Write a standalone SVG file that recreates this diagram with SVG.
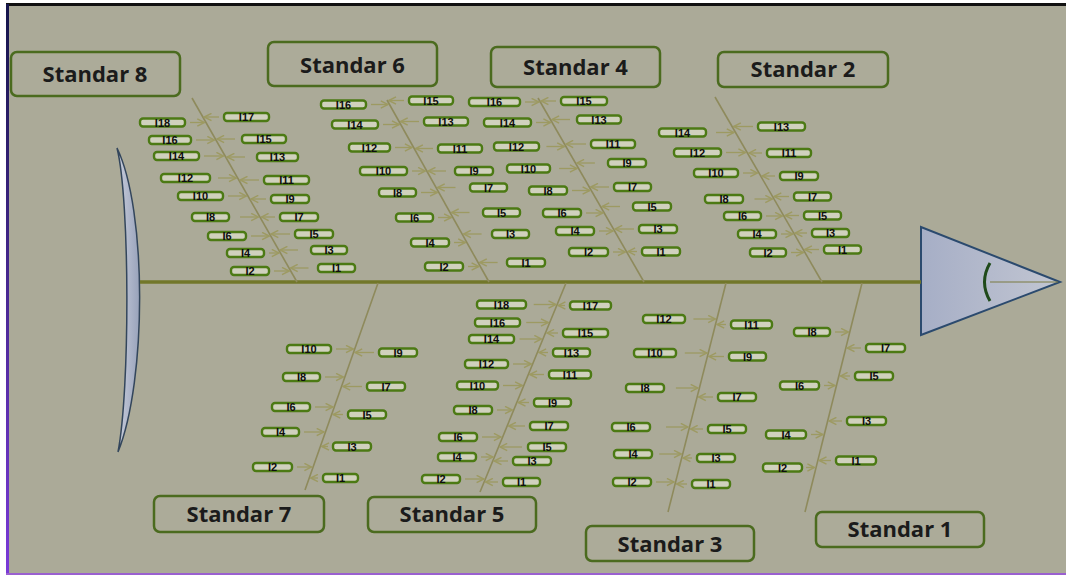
<svg xmlns="http://www.w3.org/2000/svg" width="1066" height="576" viewBox="0 0 1066 576">
<style>
.std{fill:#acab99;stroke:#4b6b1f;stroke-width:2.5}
.stx{font-family:"Open Sans","Liberation Sans",sans-serif;font-weight:700;font-size:22px;fill:#1b1b1b;text-anchor:middle}
.p{fill:#d0d1bd;stroke:#4c7a14;stroke-width:2.4}
.t{font-family:"Liberation Sans",Arial,sans-serif;font-weight:700;font-size:11px;fill:#0e0e0e;text-anchor:middle}
.bone{stroke:#8e8a5c;stroke-width:1.6;fill:none}
.arr{stroke:#9d9a62;stroke-width:1.3;fill:none;marker-end:url(#ah)}
</style>
<defs>
<marker id="ah" viewBox="0 0 10 10" refX="9" refY="5" markerWidth="9" markerHeight="9" markerUnits="userSpaceOnUse" orient="auto"><path d="M1,1 L9,5 L1,9" fill="none" stroke="#9d9a62" stroke-width="1.6"/></marker>
<linearGradient id="lb" x1="0" y1="0" x2="0" y2="1"><stop offset="0" stop-color="#15154a"/><stop offset="1" stop-color="#7a3ad8"/></linearGradient>
<linearGradient id="tailg" x1="0" y1="0" x2="1" y2="0"><stop offset="0" stop-color="#c9cedc"/><stop offset="1" stop-color="#98a2ba"/></linearGradient>
<linearGradient id="headg" x1="0" y1="0" x2="1" y2="0"><stop offset="0" stop-color="#a6aec6"/><stop offset="1" stop-color="#c2c6d2"/></linearGradient>
</defs>
<rect width="1066" height="576" fill="#ffffff"/>
<rect x="7" y="4" width="1059" height="570" fill="#abaa98"/>
<rect x="6" y="3" width="1060" height="3" fill="#111"/>
<rect x="6" y="4" width="3" height="571" fill="url(#lb)"/>
<rect x="6" y="573" width="1060" height="2" fill="#9a60d0"/>

<g id="tail"><path d="M117,148 C147,210 147,380 118,452 C130,390 130,200 117,148 Z" fill="url(#tailg)" stroke="#33465c" stroke-width="1.5"/></g>
<g id="head">
<polygon points="921,227 921,335 1060,282" fill="url(#headg)" stroke="#2b4a6e" stroke-width="2"/>
<line x1="990" y1="282" x2="1058" y2="282" stroke="#7a7a40" stroke-width="1"/>
<path d="M990,263 Q979,282 990,301" fill="none" stroke="#1f4a1a" stroke-width="3"/>
</g>

<g id="connectors">
<line x1="140" y1="282" x2="921" y2="282" stroke="#72772a" stroke-width="3.5"/>
<line class="bone" x1="192" y1="98" x2="297" y2="282"/>
<line class="bone" x1="387" y1="100" x2="489" y2="282"/>
<line class="bone" x1="538" y1="98" x2="644" y2="282"/>
<line class="bone" x1="715" y1="97" x2="822" y2="282"/>
<line class="bone" x1="378" y1="283" x2="305" y2="490"/>
<line class="bone" x1="566" y1="283" x2="480" y2="492"/>
<line class="bone" x1="726" y1="283" x2="668" y2="512"/>
<line class="bone" x1="862" y1="283" x2="805" y2="512"/>
<!-- S8 arrows -->
<path class="arr" d="M190,122.5H204.5"/><path class="arr" d="M219,117H204.3"/>
<path class="arr" d="M196,140H214.5"/><path class="arr" d="M235,139H216.9"/>
<path class="arr" d="M204,156H223.6"/><path class="arr" d="M245,157H227.2"/>
<path class="arr" d="M218,178H236.2"/><path class="arr" d="M259,180H240.3"/>
<path class="arr" d="M228,196H246.4"/><path class="arr" d="M266,199H251.1"/>
<path class="arr" d="M240,217H258.4"/><path class="arr" d="M275,217H261.4"/>
<path class="arr" d="M251,236H269.3"/><path class="arr" d="M290,234H271.1"/>
<path class="arr" d="M269,253H279"/><path class="arr" d="M298,250H280.2"/>
<path class="arr" d="M274,271H289.2"/><path class="arr" d="M308.5,268H290.5"/>
<!-- S6 arrows -->
<path class="arr" d="M371,104.5H388"/><path class="arr" d="M404,100.5H388.8"/>
<path class="arr" d="M383,124.5H399.2"/><path class="arr" d="M419,121.5H400.5"/>
<path class="arr" d="M395,147.5H412.1"/><path class="arr" d="M433,148.5H415.7"/>
<path class="arr" d="M412,171H425.3"/><path class="arr" d="M446,171H428.3"/>
<path class="arr" d="M421,192.5H437.3"/><path class="arr" d="M455.5,187.5H437.5"/>
<path class="arr" d="M438,217.5H451.3"/><path class="arr" d="M469.5,212.5H451.5"/>
<path class="arr" d="M454,242.5H465.4"/><path class="arr" d="M481.6,234H463.6"/>
<path class="arr" d="M468,266.5H478.8"/><path class="arr" d="M497.6,262.5H479.6"/>
<!-- S4 arrows -->
<path class="arr" d="M525,102H538.8"/><path class="arr" d="M556,101H541.2"/>
<path class="arr" d="M536,122.5H550.6"/><path class="arr" d="M570,119.5H551.9"/>
<path class="arr" d="M546.4,146.5H564.4"/><path class="arr" d="M586,144H566"/>
<path class="arr" d="M559.1,168.5H577.1"/><path class="arr" d="M594.9,163H576.9"/>
<path class="arr" d="M572,190.5H589.8"/><path class="arr" d="M609,187H590.8"/>
<path class="arr" d="M586,213H602.8"/><path class="arr" d="M620,206.5H602"/>
<path class="arr" d="M599,231H613.1"/><path class="arr" d="M634,229H615"/>
<path class="arr" d="M613,252H625.2"/><path class="arr" d="M637,251.5H627.9"/>
<!-- S2 arrows -->
<path class="arr" d="M716,132.5H734"/><path class="arr" d="M753,126.5H733.6"/>
<path class="arr" d="M726,152.5H745.6"/><path class="arr" d="M762,153H748.9"/>
<path class="arr" d="M743,173H757.5"/><path class="arr" d="M775,176H762.2"/>
<path class="arr" d="M754.5,199H772.5"/><path class="arr" d="M789,196.5H774.1"/>
<path class="arr" d="M766,216H782.3"/><path class="arr" d="M799,215.5H785"/>
<path class="arr" d="M781,234H792.7"/><path class="arr" d="M807,233H795.2"/>
<path class="arr" d="M791,252.5H803.4"/><path class="arr" d="M819,249.5H804.7"/>
<!-- S7 arrows -->
<path class="arr" d="M336,349H353.2"/><path class="arr" d="M374,352.5H355"/>
<path class="arr" d="M325,377H343.3"/><path class="arr" d="M362,386.5H343"/>
<path class="arr" d="M315,407H332.8"/><path class="arr" d="M343,414.5H333.1"/>
<path class="arr" d="M304,432H323.9"/><path class="arr" d="M328,446.5H321.8"/>
<path class="arr" d="M297,467H311.6"/><path class="arr" d="M318,478H310.7"/>
<!-- S5 arrows -->
<path class="arr" d="M533.7,304.5H555.7"/><path class="arr" d="M565,305.5H558.2"/>
<path class="arr" d="M526.2,322.5H548.2"/><path class="arr" d="M558,333H546.9"/>
<path class="arr" d="M519.5,339H541.5"/><path class="arr" d="M548,352.5H538.9"/>
<path class="arr" d="M513,364H531.2"/><path class="arr" d="M544,374.5H529.8"/>
<path class="arr" d="M503,385.5H522.3"/><path class="arr" d="M529,402.5H518.3"/>
<path class="arr" d="M497,410H512.2"/><path class="arr" d="M525,426H508.7"/>
<path class="arr" d="M482,437H501.1"/><path class="arr" d="M522,447H500"/>
<path class="arr" d="M481,457H492.9"/><path class="arr" d="M508,461H494.3"/>
<path class="arr" d="M465,479H483.8"/><path class="arr" d="M498,482H485.6"/>
<!-- S3 arrows -->
<path class="arr" d="M693.4,319H715.4"/><path class="arr" d="M726,324.5H717"/>
<path class="arr" d="M684.8,353H706.8"/><path class="arr" d="M724,356.5H708.9"/>
<path class="arr" d="M675.9,388H697.9"/><path class="arr" d="M713,397H698.6"/>
<path class="arr" d="M666,427H688"/><path class="arr" d="M703,429H690.5"/>
<path class="arr" d="M659.2,454H681.2"/><path class="arr" d="M692,458H683.2"/>
<path class="arr" d="M656,482H674.1"/><path class="arr" d="M687,484H676.6"/>
<!-- S1 arrows -->
<path class="arr" d="M835,332H848.3"/><path class="arr" d="M861,348H847.3"/>
<path class="arr" d="M850,376H840.4"/><path class="arr" d="M824,385.5H835"/>
<path class="arr" d="M842,421H829.2"/><path class="arr" d="M811,434.5H822.8"/>
<path class="arr" d="M831,460.5H819.3"/><path class="arr" d="M806,467.5H814.6"/>
</g>

<g id="std8"><rect class="std" x="11" y="52" width="169" height="44" rx="6"/><text class="stx" x="95" y="82">Standar 8</text></g>
<g id="std6"><rect class="std" x="268" y="42" width="169" height="44" rx="6"/><text class="stx" x="352.5" y="73">Standar 6</text></g>
<g id="std4"><rect class="std" x="491" y="47" width="169" height="40" rx="6"/><text class="stx" x="575.5" y="75">Standar 4</text></g>
<g id="std2"><rect class="std" x="718" y="52" width="170" height="35" rx="6"/><text class="stx" x="803" y="77">Standar 2</text></g>
<g id="std7"><rect class="std" x="154" y="496" width="170" height="36" rx="6"/><text class="stx" x="239" y="522">Standar 7</text></g>
<g id="std5"><rect class="std" x="368" y="497" width="168" height="35" rx="6"/><text class="stx" x="452" y="522">Standar 5</text></g>
<g id="std3"><rect class="std" x="586" y="526" width="168" height="35" rx="6"/><text class="stx" x="670" y="552">Standar 3</text></g>
<g id="std1"><rect class="std" x="816" y="512" width="168" height="35" rx="6"/><text class="stx" x="900" y="537">Standar 1</text></g>

<!-- Standar 8 labels -->
<g id="s8-i18"><rect class="p" x="140" y="118.5" width="45" height="8" rx="3"/><text class="t" x="162.5" y="126.5">I18</text></g>
<g id="s8-i17"><rect class="p" x="224" y="113" width="45" height="8" rx="3"/><text class="t" x="246.5" y="121">I17</text></g>
<g id="s8-i16"><rect class="p" x="149" y="136" width="42" height="8" rx="3"/><text class="t" x="170" y="144">I16</text></g>
<g id="s8-i15"><rect class="p" x="242" y="135" width="44" height="8" rx="3"/><text class="t" x="264" y="143">I15</text></g>
<g id="s8-i14"><rect class="p" x="154" y="152" width="45" height="8" rx="3"/><text class="t" x="176.5" y="160">I14</text></g>
<g id="s8-i13"><rect class="p" x="257" y="153" width="41" height="8" rx="3"/><text class="t" x="277.5" y="161">I13</text></g>
<g id="s8-i12"><rect class="p" x="161" y="174" width="49" height="8" rx="3"/><text class="t" x="185.5" y="182">I12</text></g>
<g id="s8-i11"><rect class="p" x="264" y="176" width="45" height="8" rx="3"/><text class="t" x="286.5" y="184">I11</text></g>
<g id="s8-i10"><rect class="p" x="178" y="192" width="45" height="8" rx="3"/><text class="t" x="200.5" y="200">I10</text></g>
<g id="s8-i9"><rect class="p" x="271" y="195" width="38" height="8" rx="3"/><text class="t" x="290" y="203">I9</text></g>
<g id="s8-i8"><rect class="p" x="192" y="213" width="37" height="8" rx="3"/><text class="t" x="210.5" y="221">I8</text></g>
<g id="s8-i7"><rect class="p" x="280" y="213" width="38" height="8" rx="3"/><text class="t" x="299" y="221">I7</text></g>
<g id="s8-i6"><rect class="p" x="208" y="232" width="38" height="8" rx="3"/><text class="t" x="227" y="240">I6</text></g>
<g id="s8-i5"><rect class="p" x="295" y="230" width="38" height="8" rx="3"/><text class="t" x="314" y="238">I5</text></g>
<g id="s8-i4"><rect class="p" x="227" y="249" width="37" height="8" rx="3"/><text class="t" x="245.5" y="257">I4</text></g>
<g id="s8-i3"><rect class="p" x="311" y="246" width="36" height="8" rx="3"/><text class="t" x="329" y="254">I3</text></g>
<g id="s8-i2"><rect class="p" x="231" y="267" width="38" height="8" rx="3"/><text class="t" x="250" y="275">I2</text></g>
<g id="s8-i1"><rect class="p" x="318" y="264" width="37" height="8" rx="3"/><text class="t" x="336.5" y="272">I1</text></g>

<!-- Standar 6 labels -->
<g id="s6-i16"><rect class="p" x="321" y="100.5" width="45" height="8" rx="3"/><text class="t" x="343.5" y="108.5">I16</text></g>
<g id="s6-i15"><rect class="p" x="409" y="96.5" width="44" height="8" rx="3"/><text class="t" x="431" y="104.5">I15</text></g>
<g id="s6-i14"><rect class="p" x="332" y="120.5" width="46" height="8" rx="3"/><text class="t" x="355" y="128.5">I14</text></g>
<g id="s6-i13"><rect class="p" x="424" y="117.5" width="44" height="8" rx="3"/><text class="t" x="446" y="125.5">I13</text></g>
<g id="s6-i12"><rect class="p" x="349" y="143.5" width="41" height="8" rx="3"/><text class="t" x="369.5" y="151.5">I12</text></g>
<g id="s6-i11"><rect class="p" x="438" y="144.5" width="44" height="8" rx="3"/><text class="t" x="460" y="152.5">I11</text></g>
<g id="s6-i10"><rect class="p" x="360" y="167" width="47" height="8" rx="3"/><text class="t" x="383.5" y="175">I10</text></g>
<g id="s6-i9"><rect class="p" x="455" y="167" width="38" height="8" rx="3"/><text class="t" x="474" y="175">I9</text></g>
<g id="s6-i8"><rect class="p" x="379" y="188.5" width="37" height="8" rx="3"/><text class="t" x="397.5" y="196.5">I8</text></g>
<g id="s6-i7"><rect class="p" x="470" y="183.5" width="37" height="8" rx="3"/><text class="t" x="488.5" y="191.5">I7</text></g>
<g id="s6-i6"><rect class="p" x="396" y="213.5" width="37" height="8" rx="3"/><text class="t" x="414.5" y="221.5">I6</text></g>
<g id="s6-i5"><rect class="p" x="483" y="208.5" width="37" height="8" rx="3"/><text class="t" x="501.5" y="216.5">I5</text></g>
<g id="s6-i4"><rect class="p" x="411" y="238.5" width="38" height="8" rx="3"/><text class="t" x="430" y="246.5">I4</text></g>
<g id="s6-i3"><rect class="p" x="492" y="230" width="37" height="8" rx="3"/><text class="t" x="510.5" y="238">I3</text></g>
<g id="s6-i2"><rect class="p" x="425" y="262.5" width="38" height="8" rx="3"/><text class="t" x="444" y="270.5">I2</text></g>
<g id="s6-i1"><rect class="p" x="507" y="258.5" width="38" height="8" rx="3"/><text class="t" x="526" y="266.5">I1</text></g>

<!-- Standar 4 labels -->
<g id="s4-i16"><rect class="p" x="469" y="98" width="51" height="8" rx="3"/><text class="t" x="494.5" y="106">I16</text></g>
<g id="s4-i15"><rect class="p" x="561" y="97" width="46" height="8" rx="3"/><text class="t" x="584" y="105">I15</text></g>
<g id="s4-i14"><rect class="p" x="484" y="118.5" width="47" height="8" rx="3"/><text class="t" x="507.5" y="126.5">I14</text></g>
<g id="s4-i13"><rect class="p" x="577" y="115.5" width="44" height="8" rx="3"/><text class="t" x="599" y="123.5">I13</text></g>
<g id="s4-i12"><rect class="p" x="494" y="142.5" width="45" height="8" rx="3"/><text class="t" x="516.5" y="150.5">I12</text></g>
<g id="s4-i11"><rect class="p" x="591" y="140" width="44" height="8" rx="3"/><text class="t" x="613" y="148">I11</text></g>
<g id="s4-i10"><rect class="p" x="507" y="164.5" width="43" height="8" rx="3"/><text class="t" x="528.5" y="172.5">I10</text></g>
<g id="s4-i9"><rect class="p" x="608" y="159" width="38" height="8" rx="3"/><text class="t" x="627" y="167">I9</text></g>
<g id="s4-i8"><rect class="p" x="529" y="186.5" width="38" height="8" rx="3"/><text class="t" x="548" y="194.5">I8</text></g>
<g id="s4-i7"><rect class="p" x="614" y="183" width="37" height="8" rx="3"/><text class="t" x="632.5" y="191">I7</text></g>
<g id="s4-i6"><rect class="p" x="543" y="209" width="38" height="8" rx="3"/><text class="t" x="562" y="217">I6</text></g>
<g id="s4-i5"><rect class="p" x="633" y="202.5" width="38" height="8" rx="3"/><text class="t" x="652" y="210.5">I5</text></g>
<g id="s4-i4"><rect class="p" x="556" y="227" width="38" height="8" rx="3"/><text class="t" x="575" y="235">I4</text></g>
<g id="s4-i3"><rect class="p" x="639" y="225" width="38" height="8" rx="3"/><text class="t" x="658" y="233">I3</text></g>
<g id="s4-i2"><rect class="p" x="569" y="248" width="39" height="8" rx="3"/><text class="t" x="588.5" y="256">I2</text></g>
<g id="s4-i1"><rect class="p" x="642" y="247.5" width="38" height="8" rx="3"/><text class="t" x="661" y="255.5">I1</text></g>

<!-- Standar 2 labels -->
<g id="s2-i14"><rect class="p" x="659" y="128.5" width="47" height="8" rx="3"/><text class="t" x="682.5" y="136.5">I14</text></g>
<g id="s2-i13"><rect class="p" x="758" y="122.5" width="47" height="8" rx="3"/><text class="t" x="781.5" y="130.5">I13</text></g>
<g id="s2-i12"><rect class="p" x="674" y="148.5" width="47" height="8" rx="3"/><text class="t" x="697.5" y="156.5">I12</text></g>
<g id="s2-i11"><rect class="p" x="767" y="149" width="44" height="8" rx="3"/><text class="t" x="789" y="157">I11</text></g>
<g id="s2-i10"><rect class="p" x="694" y="169" width="44" height="8" rx="3"/><text class="t" x="716" y="177">I10</text></g>
<g id="s2-i9"><rect class="p" x="780" y="172" width="38" height="8" rx="3"/><text class="t" x="799" y="180">I9</text></g>
<g id="s2-i8"><rect class="p" x="705" y="195" width="38" height="8" rx="3"/><text class="t" x="724" y="203">I8</text></g>
<g id="s2-i7"><rect class="p" x="794" y="192.5" width="37" height="8" rx="3"/><text class="t" x="812.5" y="200.5">I7</text></g>
<g id="s2-i6"><rect class="p" x="724" y="212" width="37" height="8" rx="3"/><text class="t" x="742.5" y="220">I6</text></g>
<g id="s2-i5"><rect class="p" x="804" y="211.5" width="37" height="8" rx="3"/><text class="t" x="822.5" y="219.5">I5</text></g>
<g id="s2-i4"><rect class="p" x="738" y="230" width="38" height="8" rx="3"/><text class="t" x="757" y="238">I4</text></g>
<g id="s2-i3"><rect class="p" x="812" y="229" width="37" height="8" rx="3"/><text class="t" x="830.5" y="237">I3</text></g>
<g id="s2-i2"><rect class="p" x="750" y="248.5" width="36" height="8" rx="3"/><text class="t" x="768" y="256.5">I2</text></g>
<g id="s2-i1"><rect class="p" x="824" y="245.5" width="37" height="8" rx="3"/><text class="t" x="842.5" y="253.5">I1</text></g>

<!-- Standar 7 labels -->
<g id="s7-i10"><rect class="p" x="287" y="345" width="44" height="8" rx="3"/><text class="t" x="309" y="353">I10</text></g>
<g id="s7-i9"><rect class="p" x="379" y="348.5" width="38" height="8" rx="3"/><text class="t" x="398" y="356.5">I9</text></g>
<g id="s7-i8"><rect class="p" x="283" y="373" width="37" height="8" rx="3"/><text class="t" x="301.5" y="381">I8</text></g>
<g id="s7-i7"><rect class="p" x="367" y="382.5" width="38" height="8" rx="3"/><text class="t" x="386" y="390.5">I7</text></g>
<g id="s7-i6"><rect class="p" x="272" y="403" width="38" height="8" rx="3"/><text class="t" x="291" y="411">I6</text></g>
<g id="s7-i5"><rect class="p" x="348" y="410.5" width="38" height="8" rx="3"/><text class="t" x="367" y="418.5">I5</text></g>
<g id="s7-i4"><rect class="p" x="262" y="428" width="37" height="8" rx="3"/><text class="t" x="280.5" y="436">I4</text></g>
<g id="s7-i3"><rect class="p" x="333" y="442.5" width="38" height="8" rx="3"/><text class="t" x="352" y="450.5">I3</text></g>
<g id="s7-i2"><rect class="p" x="253" y="463" width="39" height="8" rx="3"/><text class="t" x="272.5" y="471">I2</text></g>
<g id="s7-i1"><rect class="p" x="323" y="474" width="35" height="8" rx="3"/><text class="t" x="340.5" y="482">I1</text></g>

<!-- Standar 5 labels -->
<g id="s5-i18"><rect class="p" x="477" y="300.5" width="49" height="8" rx="3"/><text class="t" x="501.5" y="308.5">I18</text></g>
<g id="s5-i17"><rect class="p" x="570" y="301.5" width="41" height="8" rx="3"/><text class="t" x="590.5" y="309.5">I17</text></g>
<g id="s5-i16"><rect class="p" x="475" y="318.5" width="45" height="8" rx="3"/><text class="t" x="497.5" y="326.5">I16</text></g>
<g id="s5-i15"><rect class="p" x="563" y="329" width="45" height="8" rx="3"/><text class="t" x="585.5" y="337">I15</text></g>
<g id="s5-i14"><rect class="p" x="469" y="335" width="45" height="8" rx="3"/><text class="t" x="491.5" y="343">I14</text></g>
<g id="s5-i13"><rect class="p" x="553" y="348.5" width="37" height="8" rx="3"/><text class="t" x="571.5" y="356.5">I13</text></g>
<g id="s5-i12"><rect class="p" x="465" y="360" width="43" height="8" rx="3"/><text class="t" x="486.5" y="368">I12</text></g>
<g id="s5-i11"><rect class="p" x="549" y="370.5" width="42" height="8" rx="3"/><text class="t" x="570" y="378.5">I11</text></g>
<g id="s5-i10"><rect class="p" x="457" y="381.5" width="41" height="8" rx="3"/><text class="t" x="477.5" y="389.5">I10</text></g>
<g id="s5-i9"><rect class="p" x="534" y="398.5" width="37" height="8" rx="3"/><text class="t" x="552.5" y="406.5">I9</text></g>
<g id="s5-i8"><rect class="p" x="454" y="406" width="38" height="8" rx="3"/><text class="t" x="473" y="414">I8</text></g>
<g id="s5-i7"><rect class="p" x="530" y="422" width="38" height="8" rx="3"/><text class="t" x="549" y="430">I7</text></g>
<g id="s5-i6"><rect class="p" x="439" y="433" width="38" height="8" rx="3"/><text class="t" x="458" y="441">I6</text></g>
<g id="s5-i5"><rect class="p" x="528" y="443" width="38" height="8" rx="3"/><text class="t" x="547" y="451">I5</text></g>
<g id="s5-i4"><rect class="p" x="438" y="453" width="38" height="8" rx="3"/><text class="t" x="457" y="461">I4</text></g>
<g id="s5-i3"><rect class="p" x="513" y="457" width="38" height="8" rx="3"/><text class="t" x="532" y="465">I3</text></g>
<g id="s5-i2"><rect class="p" x="422" y="475" width="38" height="8" rx="3"/><text class="t" x="441" y="483">I2</text></g>
<g id="s5-i1"><rect class="p" x="503" y="478" width="37" height="8" rx="3"/><text class="t" x="521.5" y="486">I1</text></g>

<!-- Standar 3 labels -->
<g id="s3-i12"><rect class="p" x="643" y="315" width="42" height="8" rx="3"/><text class="t" x="664" y="323">I12</text></g>
<g id="s3-i11"><rect class="p" x="731" y="320.5" width="41" height="8" rx="3"/><text class="t" x="751.5" y="328.5">I11</text></g>
<g id="s3-i10"><rect class="p" x="634" y="349" width="42" height="8" rx="3"/><text class="t" x="655" y="357">I10</text></g>
<g id="s3-i9"><rect class="p" x="729" y="352.5" width="37" height="8" rx="3"/><text class="t" x="747.5" y="360.5">I9</text></g>
<g id="s3-i8"><rect class="p" x="626" y="384" width="38" height="8" rx="3"/><text class="t" x="645" y="392">I8</text></g>
<g id="s3-i7"><rect class="p" x="718" y="393" width="38" height="8" rx="3"/><text class="t" x="737" y="401">I7</text></g>
<g id="s3-i6"><rect class="p" x="612" y="423" width="38" height="8" rx="3"/><text class="t" x="631" y="431">I6</text></g>
<g id="s3-i5"><rect class="p" x="708" y="425" width="38" height="8" rx="3"/><text class="t" x="727" y="433">I5</text></g>
<g id="s3-i4"><rect class="p" x="614" y="450" width="38" height="8" rx="3"/><text class="t" x="633" y="458">I4</text></g>
<g id="s3-i3"><rect class="p" x="697" y="454" width="38" height="8" rx="3"/><text class="t" x="716" y="462">I3</text></g>
<g id="s3-i2"><rect class="p" x="613" y="478" width="38" height="8" rx="3"/><text class="t" x="632" y="486">I2</text></g>
<g id="s3-i1"><rect class="p" x="692" y="480" width="38" height="8" rx="3"/><text class="t" x="711" y="488">I1</text></g>

<!-- Standar 1 labels -->
<g id="s1-i8"><rect class="p" x="794" y="328" width="36" height="8" rx="3"/><text class="t" x="812" y="336">I8</text></g>
<g id="s1-i7"><rect class="p" x="866" y="344" width="39" height="8" rx="3"/><text class="t" x="885.5" y="352">I7</text></g>
<g id="s1-i5"><rect class="p" x="855" y="372" width="38" height="8" rx="3"/><text class="t" x="874" y="380">I5</text></g>
<g id="s1-i6"><rect class="p" x="780" y="381.5" width="39" height="8" rx="3"/><text class="t" x="799.5" y="389.5">I6</text></g>
<g id="s1-i3"><rect class="p" x="847" y="417" width="39" height="8" rx="3"/><text class="t" x="866.5" y="425">I3</text></g>
<g id="s1-i4"><rect class="p" x="766" y="430.5" width="40" height="8" rx="3"/><text class="t" x="786" y="438.5">I4</text></g>
<g id="s1-i1"><rect class="p" x="836" y="456.5" width="40" height="8" rx="3"/><text class="t" x="856" y="464.5">I1</text></g>
<g id="s1-i2"><rect class="p" x="763" y="463.5" width="39" height="8" rx="3"/><text class="t" x="782.5" y="471.5">I2</text></g>
</svg>
